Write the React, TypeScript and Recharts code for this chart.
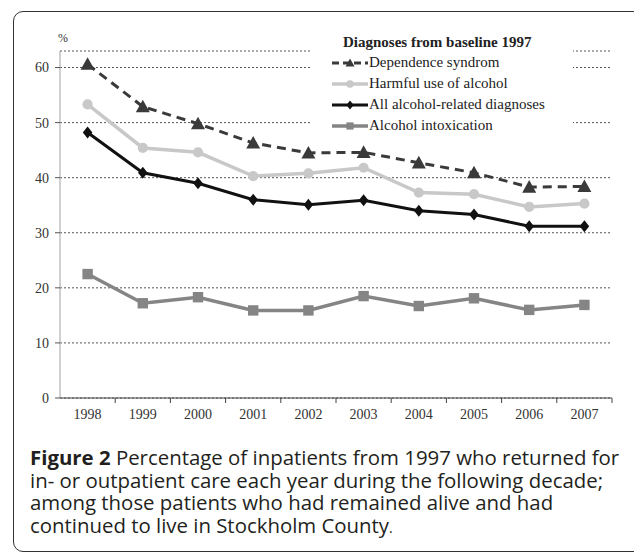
import React from 'react';
import {
  LineChart,
  Line,
  XAxis,
  YAxis,
  CartesianGrid,
  Legend
} from 'recharts';

// Data (percent per year)
const years = ['1998', '1999', '2000', '2001', '2002', '2003', '2004', '2005', '2006', '2007'];
const dependence = [60.6, 52.9, 49.8, 46.3, 44.5, 44.6, 42.7, 40.9, 38.3, 38.4];
const harmful = [53.3, 45.4, 44.6, 40.3, 40.8, 41.8, 37.3, 37.0, 34.7, 35.3];
const allDiagnoses = [48.2, 40.9, 39.0, 36.0, 35.1, 35.9, 34.0, 33.3, 31.2, 31.2];
const intoxication = [22.5, 17.2, 18.3, 15.9, 15.9, 18.5, 16.7, 18.1, 16.0, 16.9];
const yTicks = [0, 10, 20, 30, 40, 50, 60];

const legendTitle = 'Diagnoses from baseline 1997';
const captionBold = 'Figure 2';
const captionLines = [
  ' Percentage of inpatients from 1997 who returned for',
  'in- or outpatient care each year during the following decade;',
  'among those patients who had remained alive and had',
  'continued to live in Stockholm County'
];

const data = years.map((year, i) => ({
  year,
  dependence: dependence[i],
  harmful: harmful[i],
  all: allDiagnoses[i],
  intox: intoxication[i]
}));

type Shape = 'triangle' | 'circle' | 'diamond' | 'square';

const series: { key: string; name: string; color: string; width: number; dash?: string; shape: Shape }[] = [
  { key: 'dependence', name: 'Dependence syndrom', color: '#3a3a3a', width: 3, dash: '9 6', shape: 'triangle' },
  { key: 'harmful', name: 'Harmful use of alcohol', color: '#c8c8c8', width: 3.5, shape: 'circle' },
  { key: 'all', name: 'All alcohol-related diagnoses', color: '#111111', width: 3, shape: 'diamond' },
  { key: 'intox', name: 'Alcohol intoxication', color: '#858585', width: 3.5, shape: 'square' }
];

const SERIF = '"Liberation Serif", "Times New Roman", serif';
const TICK_SIZE = 5;
const TICK_MARGIN = 6;

const Marker = ({ shape, cx, cy, color, s }: { shape: Shape; cx: number; cy: number; color: string; s: number }) => {
  if (shape === 'triangle') {
    return <polygon points={`${cx},${cy - s} ${cx + s},${cy + s * 0.8} ${cx - s},${cy + s * 0.8}`} fill={color} />;
  }
  if (shape === 'circle') {
    return <circle cx={cx} cy={cy} r={s * 0.85} fill={color} />;
  }
  if (shape === 'diamond') {
    return <polygon points={`${cx},${cy - s} ${cx + s * 0.8},${cy} ${cx},${cy + s} ${cx - s * 0.8},${cy}`} fill={color} />;
  }
  return <rect x={cx - s * 0.8} y={cy - s * 0.8} width={s * 1.6} height={s * 1.6} fill={color} />;
};

const makeDot = (shape: Shape, color: string, s: number) => (props: any) => {
  const { cx, cy, index } = props;
  if (cx == null || cy == null) return <g key={index} />;
  return <Marker key={index} shape={shape} cx={cx} cy={cy} color={color} s={s} />;
};

// Year label plus tick marks placed between the categories
const YearTick = (props: any) => {
  const { x, y, payload, index, width, visibleTicksCount } = props;
  const band = (width || 552) / (visibleTicksCount || years.length);
  const axisY = y - TICK_SIZE - TICK_MARGIN;
  return (
    <g>
      {index > 0 && (
        <line x1={x - band / 2} x2={x - band / 2} y1={axisY} y2={axisY + TICK_SIZE} stroke="#444" />
      )}
      {index === years.length - 1 && (
        <line x1={x + band / 2} x2={x + band / 2} y1={axisY} y2={axisY + TICK_SIZE} stroke="#444" />
      )}
      <text x={x} y={y} dy="0.71em" textAnchor="middle" fill="#333" fontSize={14} fontFamily={SERIF}>
        {payload.value}
      </text>
    </g>
  );
};

const LegendBox = () => (
  <div style={{ background: '#fff', fontFamily: SERIF, color: '#222', padding: '2px 0 4px 0' }}>
    <div style={{ fontWeight: 'bold', fontSize: 15, paddingLeft: 33, lineHeight: '20px' }}>{legendTitle}</div>
    {series.map(s => (
      <div key={s.key} style={{ display: 'flex', alignItems: 'center', height: 21, paddingLeft: 22 }}>
        <svg width={36} height={14} style={{ marginRight: 1 }}>
          <line x1={0} x2={36} y1={7} y2={7} stroke={s.color} strokeWidth={s.width} strokeDasharray={s.dash ? '7 4' : undefined} />
          <Marker shape={s.shape} cx={18} cy={7} color={s.color} s={4.5} />
        </svg>
        <span style={{ fontSize: 15 }}>{s.name}</span>
      </div>
    ))}
  </div>
);

const App: React.FC = () => {
  return (
    <div style={{ position: 'absolute', left: 0, top: 0, width: 634, height: 554, background: '#fff', overflow: 'hidden' }}>
      <div
        style={{
          position: 'absolute',
          left: 13,
          top: 11,
          width: 630,
          height: 539,
          border: '1.5px solid #333',
          borderRadius: 10
        }}
      />
      <div style={{ position: 'absolute', left: 58, top: 31, fontFamily: SERIF, fontSize: 12, color: '#333' }}>%</div>
      <div style={{ position: 'absolute', left: 0, top: 0 }}>
        <LineChart width={634} height={430} data={data} margin={{ top: 51, right: 22, left: 0, bottom: 2 }}>
          <CartesianGrid vertical={false} stroke="#555" strokeDasharray="2 2" />
          <XAxis
            dataKey="year"
            scale="band"
            stroke="#444"
            height={30}
            tickSize={TICK_SIZE}
            tickMargin={TICK_MARGIN}
            tickLine={false}
            interval={0}
            tick={<YearTick />}
          />
          <YAxis
            width={60}
            domain={[0, 63]}
            ticks={yTicks}
            stroke="#a0a0a0"
            tickLine={{ stroke: '#555' }}
            tickSize={5}
            tickMargin={6}
            tick={{ fill: '#333', fontSize: 14, fontFamily: SERIF }}
          />
          <Legend
            content={<LegendBox />}
            layout="vertical"
            verticalAlign="middle"
            align="center"
            wrapperStyle={{ position: 'absolute', left: 310, top: 30, width: 263 }}
          />
          {series.map(s => (
            <Line
              key={s.key}
              type="linear"
              dataKey={s.key}
              name={s.name}
              stroke={s.color}
              strokeWidth={s.width}
              strokeDasharray={s.dash}
              dot={makeDot(s.shape, s.color, s.shape === 'triangle' ? 7 : s.shape === 'square' ? 6.5 : 6)}
              activeDot={false}
              isAnimationActive={false}
            />
          ))}
        </LineChart>
      </div>
      <div
        style={{
          position: 'absolute',
          left: 30,
          top: 446,
          fontFamily: '"Open Sans", "Noto Sans", sans-serif',
          fontSize: 20.4,
          lineHeight: '22.5px',
          color: '#231f20',
          whiteSpace: 'nowrap'
        }}
      >
        {captionLines.map((line, i) => (
          <div key={i}>
            {i === 0 && <span style={{ fontWeight: 'bold' }}>{captionBold}</span>}
            {line}
            {i === captionLines.length - 1 && <span style={{ fontSize: 14 }}>.</span>}
          </div>
        ))}
      </div>
    </div>
  );
};

export default App;
